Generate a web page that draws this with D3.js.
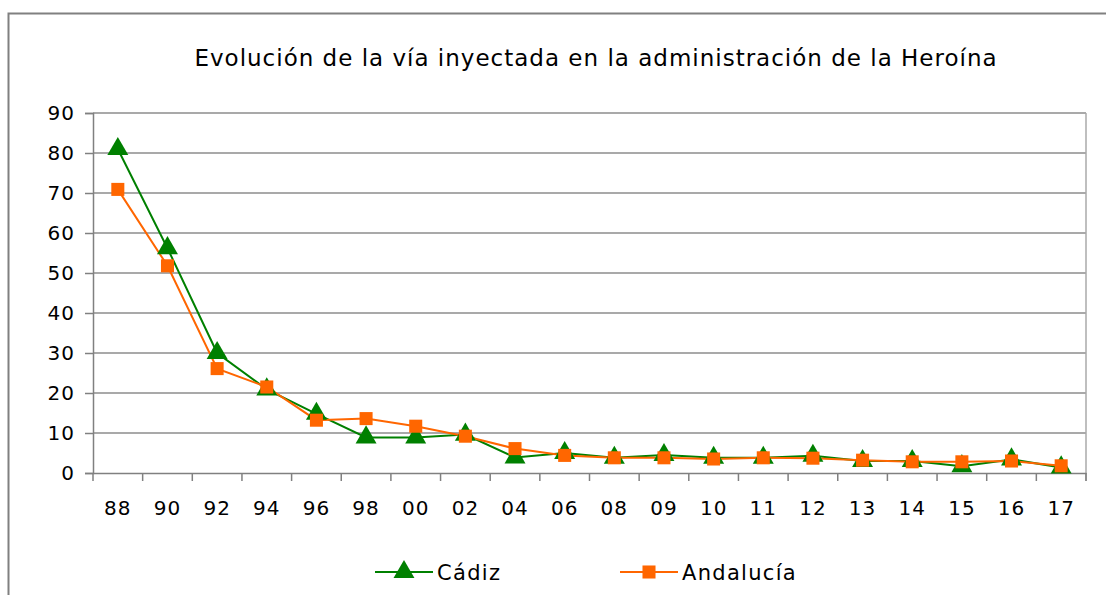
<!DOCTYPE html>
<html>
<head>
<meta charset="utf-8">
<script src="https://cdn.jsdelivr.net/npm/d3@7"></script>
<style>
  body { margin: 0; background: #fff; }
  svg text { font-family: "DejaVu Sans", Verdana, sans-serif; fill: #000; }
</style>
</head>
<body>
<div id="chart"></div>
<script>
const width = 1106;
const height = 595;

// datos
const years = ["88", "90", "92", "94", "96", "98", "00", "02", "04", "06",
               "08", "09", "10", "11", "12", "13", "14", "15", "16", "17"];
const cadiz = [81, 56.2, 30, 20.9, 14.8, 8.9, 8.9, 9.6, 3.9, 5,
               3.8, 4.5, 3.8, 3.8, 4.3, 3, 3, 1.7, 3.4, 1.4];
const andalucia = [70.9, 51.8, 26.1, 21.5, 13.2, 13.6, 11.7, 9.2, 6.1, 4.4,
                   3.8, 3.8, 3.5, 3.8, 3.7, 3.2, 2.8, 2.8, 3, 1.8];
const yTicks = [0, 10, 20, 30, 40, 50, 60, 70, 80, 90];

const margin = {top: 113, right: 20, bottom: 122, left: 93};

const svg = d3.select("#chart").append("svg")
    .attr("width", width)
    .attr("height", height);

// marco exterior
svg.append("path")
    .attr("d", `M8.5,${height} V13.5 H${width}`)
    .attr("fill", "none")
    .attr("stroke", "#808080")
    .attr("stroke-width", 2);

const x = d3.scaleBand()
    .domain(years)
    .range([margin.left, width - margin.right]);

const y = d3.scaleLinear()
    .domain([0, 90])
    .range([height - margin.bottom, margin.top]);

// título
svg.append("text")
    .attr("x", 596)
    .attr("y", 66)
    .attr("text-anchor", "middle")
    .style("font-size", "23px")
    .style("letter-spacing", "1px")
    .text("Evolución de la vía inyectada en la administración de la Heroína");

// rejilla
svg.append("g")
    .selectAll("line")
    .data(yTicks.filter(d => d > 0))
    .enter().append("line")
    .attr("x1", x.range()[0])
    .attr("x2", x.range()[1])
    .attr("y1", d => y(d))
    .attr("y2", d => y(d))
    .attr("stroke", "#8c8c8c")
    .attr("stroke-width", 1.5);

// borde derecho
svg.append("line")
    .attr("x1", x.range()[1]).attr("x2", x.range()[1])
    .attr("y1", y(90)).attr("y2", y(0) + 8)
    .attr("stroke", "#aaaaaa")
    .attr("stroke-width", 1.5);

// eje Y
const yAxis = svg.append("g")
    .attr("transform", `translate(${margin.left},0)`)
    .call(d3.axisLeft(y).tickValues(yTicks).tickSize(8).tickPadding(10));
yAxis.selectAll("path, line").attr("stroke", "#808080").attr("stroke-width", 1.5);
yAxis.selectAll("text").style("font-size", "20px").style("letter-spacing", "1px");

// eje X
const xAxis = svg.append("g")
    .attr("transform", `translate(0,${y(0)})`)
    .call(d3.axisBottom(x).tickSize(0).tickPadding(28));
xAxis.select(".domain").attr("stroke", "#808080").attr("stroke-width", 1.5);
xAxis.selectAll("text").style("font-size", "20px").style("letter-spacing", "1px");

// marcas entre categorías
const bounds = years.map(d => x(d)).concat([x.range()[1]]);
xAxis.selectAll(".sep")
    .data(bounds)
    .enter().append("line")
    .attr("class", "sep")
    .attr("x1", d => d).attr("x2", d => d)
    .attr("y1", 0).attr("y2", 8)
    .attr("stroke", "#808080")
    .attr("stroke-width", 1.5);

const cx = (d, i) => x(years[i]) + x.bandwidth() / 2;

const line = d3.line()
    .x((d, i) => cx(d, i))
    .y(d => y(d));

const series = [
    {name: "Cádiz", values: cadiz, color: "#008000", symbol: d3.symbolTriangle, size: 190},
    {name: "Andalucía", values: andalucia, color: "#ff6600", symbol: d3.symbolSquare, size: 170}
];

series.forEach(s => {
    svg.append("path")
        .datum(s.values)
        .attr("fill", "none")
        .attr("stroke", s.color)
        .attr("stroke-width", 2)
        .attr("d", line);
});

series.forEach(s => {
    svg.append("g")
        .selectAll("path")
        .data(s.values)
        .enter().append("path")
        .attr("transform", (d, i) => `translate(${cx(d, i)},${y(d)})`)
        .attr("d", d3.symbol().type(s.symbol).size(s.size))
        .attr("fill", s.color);
});

// leyenda
const legendX = [375, 620];
const legend = svg.append("g")
    .selectAll("g")
    .data(series)
    .enter().append("g")
    .attr("transform", (d, i) => `translate(${legendX[i]},572)`);

legend.append("line")
    .attr("x1", 0).attr("x2", 58)
    .attr("stroke", d => d.color)
    .attr("stroke-width", 2);

legend.append("path")
    .attr("transform", "translate(29,0)")
    .attr("d", d => d3.symbol().type(d.symbol).size(d.size)())
    .attr("fill", d => d.color);

legend.append("text")
    .attr("x", 62)
    .attr("y", 8)
    .style("font-size", "21px")
    .style("letter-spacing", "1.3px")
    .text(d => d.name);
</script>
</body>
</html>
